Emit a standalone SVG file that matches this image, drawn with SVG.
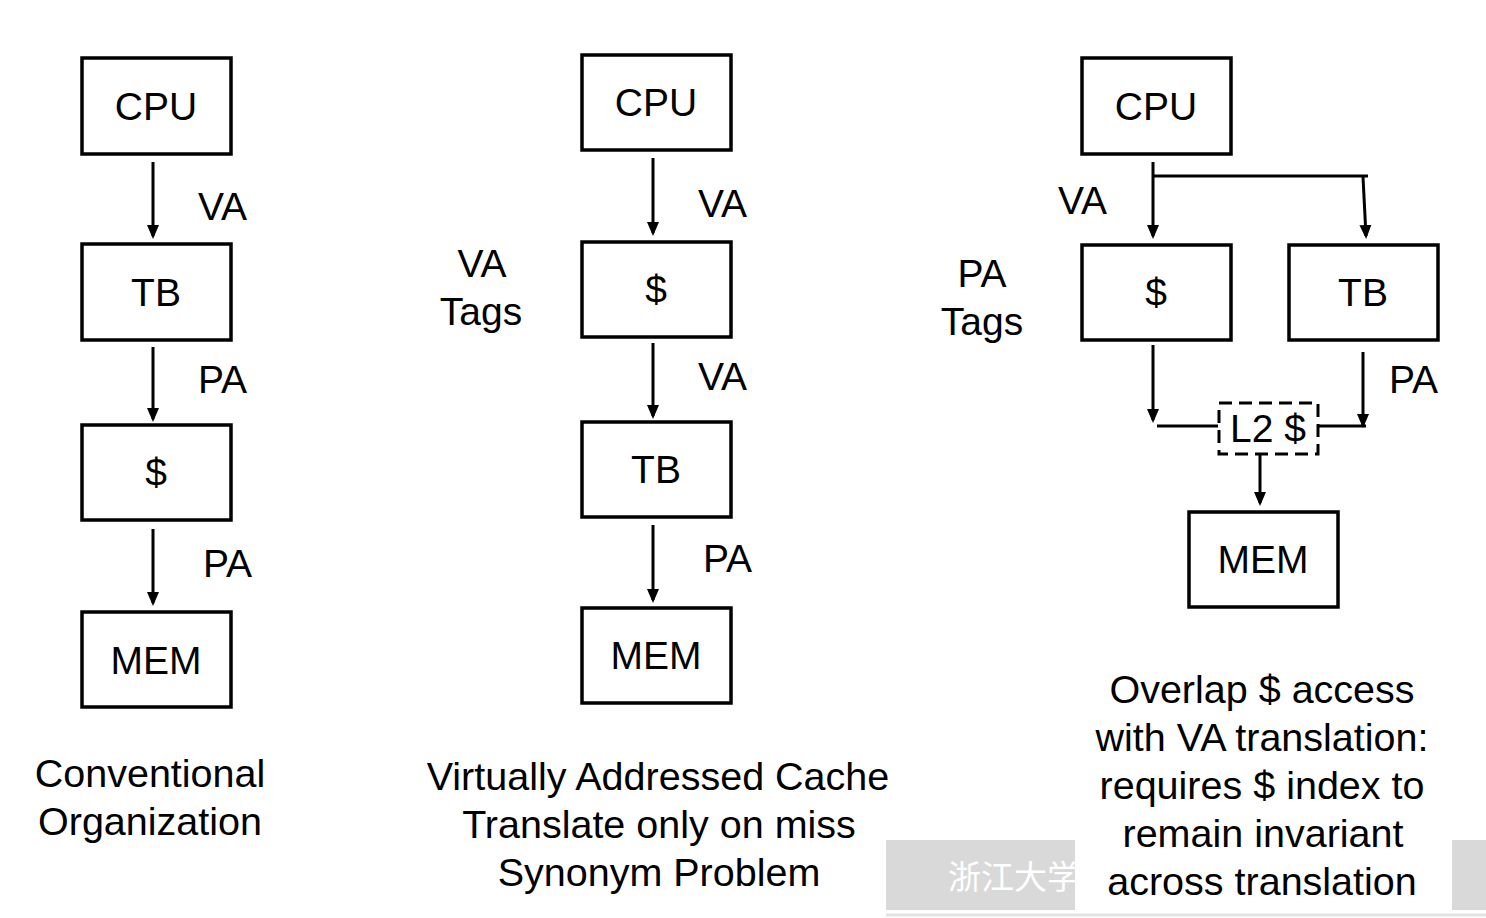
<svg xmlns="http://www.w3.org/2000/svg" width="1486" height="918" viewBox="0 0 1486 918">
<style>
.box{fill:#fff;stroke:#000;stroke-width:3.5}
.t{font-family:"Liberation Sans",Arial,sans-serif;font-size:39px;fill:#000}
.c{text-anchor:middle}
.cap{font-family:"Liberation Sans",Arial,sans-serif;font-size:39.5px;fill:#000;text-anchor:middle}
.ln{fill:none;stroke:#000;stroke-width:3}
.ar{fill:none;stroke:#000;stroke-width:3;marker-end:url(#ah)}
</style>
<defs>
<marker id="ah" markerUnits="userSpaceOnUse" markerWidth="14" markerHeight="14" viewBox="0 0 14 14" refX="11" refY="7" orient="auto">
<path d="M0 1 L14 7 L0 13 Z" fill="#000"/>
</marker>
</defs>
<rect width="1486" height="918" fill="#fff"/>
<g id="watermark">
<rect x="886" y="840" width="600" height="70" fill="#d9d9d9"/>
<text x="948" y="889" font-family="'Noto Sans CJK SC',sans-serif" font-size="33" fill="#fff">浙江大学</text>
<rect x="1075" y="828" width="377" height="84" fill="#fff"/>
<line x1="886" y1="915" x2="1486" y2="915" stroke="#e3e3e3" stroke-width="3"/>
</g>
<g id="connectors">
<path class="ar" d="M153 162 V236"/>
<path class="ar" d="M153 347 V419"/>
<path class="ar" d="M153 529 V603"/>
<path class="ar" d="M653 158 V233"/>
<path class="ar" d="M653 343 V416"/>
<path class="ar" d="M653 525 V600"/>
<path class="ar" d="M1153 162 V236"/>
<path class="ln" d="M1153 176 H1368"/>
<path class="ar" d="M1363 177 L1366 236"/>
<path class="ar" d="M1153 345 V420"/>
<path class="ln" d="M1157 426 H1218"/>
<path class="ln" d="M1318 426 H1366"/>
<path class="ar" d="M1363 352 V425"/>
<path class="ar" d="M1260 455 V503"/>
</g>
<g id="labels">
<text class="t" x="198" y="220">VA</text>
<text class="t" x="198" y="393">PA</text>
<text class="t" x="203" y="577">PA</text>
<text class="t" x="698" y="217">VA</text>
<text class="t" x="698" y="390">VA</text>
<text class="t" x="703" y="572">PA</text>
<text class="t c" x="482" y="277">VA</text>
<text class="t c" x="481" y="325">Tags</text>
<text class="t" x="1058" y="214">VA</text>
<text class="t c" x="982" y="287">PA</text>
<text class="t c" x="982" y="335">Tags</text>
<text class="t" x="1389" y="393">PA</text>
</g>
<g id="l-cpu"><rect class="box" x="82" y="58" width="149" height="96"/><text class="t c" x="156" y="120">CPU</text></g>
<g id="l-tb"><rect class="box" x="82" y="244" width="149" height="96"/><text class="t c" x="156" y="306">TB</text></g>
<g id="l-cache"><rect class="box" x="82" y="425" width="149" height="95"/><text class="t c" x="156" y="486">$</text></g>
<g id="l-mem"><rect class="box" x="82" y="612" width="149" height="95"/><text class="t c" x="156" y="674">MEM</text></g>
<g id="m-cpu"><rect class="box" x="582" y="55" width="149" height="95"/><text class="t c" x="656" y="116">CPU</text></g>
<g id="m-cache"><rect class="box" x="582" y="242" width="149" height="95"/><text class="t c" x="656" y="303">$</text></g>
<g id="m-tb"><rect class="box" x="582" y="422" width="149" height="95"/><text class="t c" x="656" y="483">TB</text></g>
<g id="m-mem"><rect class="box" x="582" y="608" width="149" height="95"/><text class="t c" x="656" y="669">MEM</text></g>
<g id="r-cpu"><rect class="box" x="1082" y="58" width="149" height="96"/><text class="t c" x="1156" y="120">CPU</text></g>
<g id="r-cache"><rect class="box" x="1082" y="245" width="149" height="95"/><text class="t c" x="1156" y="306">$</text></g>
<g id="r-tb"><rect class="box" x="1289" y="245" width="149" height="95"/><text class="t c" x="1363" y="306">TB</text></g>
<g id="r-l2"><rect x="1219" y="403" width="99" height="51" fill="none" stroke="#000" stroke-width="3" stroke-dasharray="13 7"/><text class="t c" x="1268" y="442">L2 $</text></g>
<g id="r-mem"><rect class="box" x="1189" y="512" width="149" height="95"/><text class="t c" x="1263" y="573">MEM</text></g>
<g id="captions">
<text class="cap" x="150" y="787">Conventional</text>
<text class="cap" x="150" y="835">Organization</text>
<text class="cap" x="658" y="790">Virtually Addressed Cache</text>
<text class="cap" x="659" y="838">Translate only on miss</text>
<text class="cap" x="659" y="886">Synonym Problem</text>
<text class="cap" x="1262" y="703">Overlap $ access</text>
<text class="cap" x="1262" y="751">with VA translation:</text>
<text class="cap" x="1262" y="799">requires $ index to</text>
<text class="cap" x="1263" y="847">remain invariant</text>
<text class="cap" x="1262" y="895">across translation</text>
</g>
</svg>
